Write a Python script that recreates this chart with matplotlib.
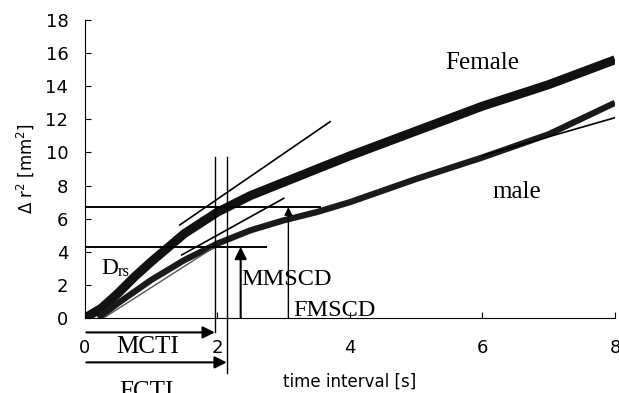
import matplotlib
matplotlib.use("Agg")
import matplotlib.pyplot as plt

# mean squared displacement curves
female_t = [0.0, 0.25, 0.5, 0.75, 1.0, 1.5, 2.0, 2.5, 3.0, 3.5, 4.0, 5.0, 6.0, 7.0, 8.0]
female_y = [0.0, 0.6, 1.5, 2.5, 3.4, 5.1, 6.4, 7.4, 8.2, 9.0, 9.8, 11.3, 12.8, 14.1, 15.6]
male_t = [0.2, 0.5, 1.0, 1.5, 2.0, 2.5, 3.0, 3.5, 4.0, 5.0, 6.0, 7.0, 8.0]
male_y = [0.0, 0.9, 2.3, 3.5, 4.5, 5.3, 5.9, 6.4, 7.0, 8.4, 9.7, 11.1, 13.0]

# fitted / tangent lines (x pair, y pair)
female_tan = ([1.43, 3.70], [5.62, 11.86])
male_tan = ([1.46, 3.0], [3.81, 7.23])
male_init = ([0.3, 1.96], [0.05, 4.3])
male_late = ([6.0, 8.06], [9.8, 12.17])

fmscd, mmscd = 6.7, 4.3
mcti, fcti = 1.96, 2.14

fig = plt.figure(figsize=(6.19, 3.93), dpi=100)
ax = fig.add_axes([0.1373, 0.1908, 0.8562, 0.7582])

ax.plot(female_t, female_y, color='#111111', lw=6.5, solid_capstyle='butt')
ax.plot(male_t, male_y, color='#1a1a1a', lw=4.5, solid_capstyle='butt')

ax.plot(*female_tan, color='k', lw=1.2)
ax.plot(*male_tan, color='k', lw=1.2)
ax.plot(*male_init, color='#555555', lw=1.0)
ax.plot(*male_late, color='k', lw=1.2)

ax.plot([0, 3.55], [fmscd, fmscd], color='k', lw=1.4)
ax.plot([0, 2.73], [mmscd, mmscd], color='k', lw=1.4)
ax.plot([mcti, mcti], [-0.85, 9.7], color='k', lw=1.0, clip_on=False)
ax.plot([fcti, fcti], [-3.3, 9.7], color='k', lw=1.0, clip_on=False)

arrow = dict(arrowstyle='-|>', mutation_scale=18, lw=1.5, color='k', shrinkA=0, shrinkB=0)
ax.annotate('', xy=(2.35, mmscd), xytext=(2.35, 0), arrowprops=arrow, annotation_clip=False)
ax.annotate('', xy=(3.07, fmscd), xytext=(3.07, 0), arrowprops=dict(arrow, lw=1.0, mutation_scale=12),
            annotation_clip=False)
ax.annotate('', xy=(mcti, -0.87), xytext=(0.02, -0.87), arrowprops=arrow, annotation_clip=False)
ax.annotate('', xy=(fcti, -2.68), xytext=(0.02, -2.68), arrowprops=arrow, annotation_clip=False)

serif = dict(family='Liberation Serif', color='k')
ax.text(6.0, 15.4, 'Female', fontsize=18, ha='center', va='center', **serif)
ax.text(6.52, 7.6, 'male', fontsize=18, ha='center', va='center', **serif)
ax.text(0.25, 3.0, 'D', fontsize=17, ha='left', va='center', **serif)
ax.text(0.5, 2.75, 'rs', fontsize=12, ha='left', va='center', **serif)
ax.text(2.36, 2.3, 'MMSCD', fontsize=17.5, ha='left', va='center', **serif)
ax.text(3.14, 0.48, 'FMSCD', fontsize=17.5, ha='left', va='center', **serif)
ax.text(0.94, -1.73, 'MCTI', fontsize=18, ha='center', va='center', clip_on=False, **serif)
ax.text(0.93, -4.45, 'FCTI', fontsize=18, ha='center', va='center', clip_on=False, **serif)

ax.set_xlim(0, 8)
ax.set_ylim(0, 18)
ax.set_xticks([0, 2, 4, 6, 8])
ax.set_yticks(range(0, 19, 2))
ax.tick_params(axis='both', direction='in', labelsize=13, length=4, width=0.8)
ax.tick_params(axis='x', pad=15)
ax.tick_params(axis='y', pad=12)
for side in ['top', 'right']:
    ax.spines[side].set_visible(False)
ax.spines['left'].set_linewidth(0.8)
ax.spines['bottom'].set_linewidth(0.8)

ax.set_xlabel('time interval [s]', fontsize=12)
ax.xaxis.set_label_coords(0.5, -0.183)
ax.set_ylabel(r'$\Delta$ r$^2$ [mm$^2$]', fontsize=12)
ax.yaxis.set_label_coords(-0.092, 0.5)

fig.savefig('out.png', dpi=100)
